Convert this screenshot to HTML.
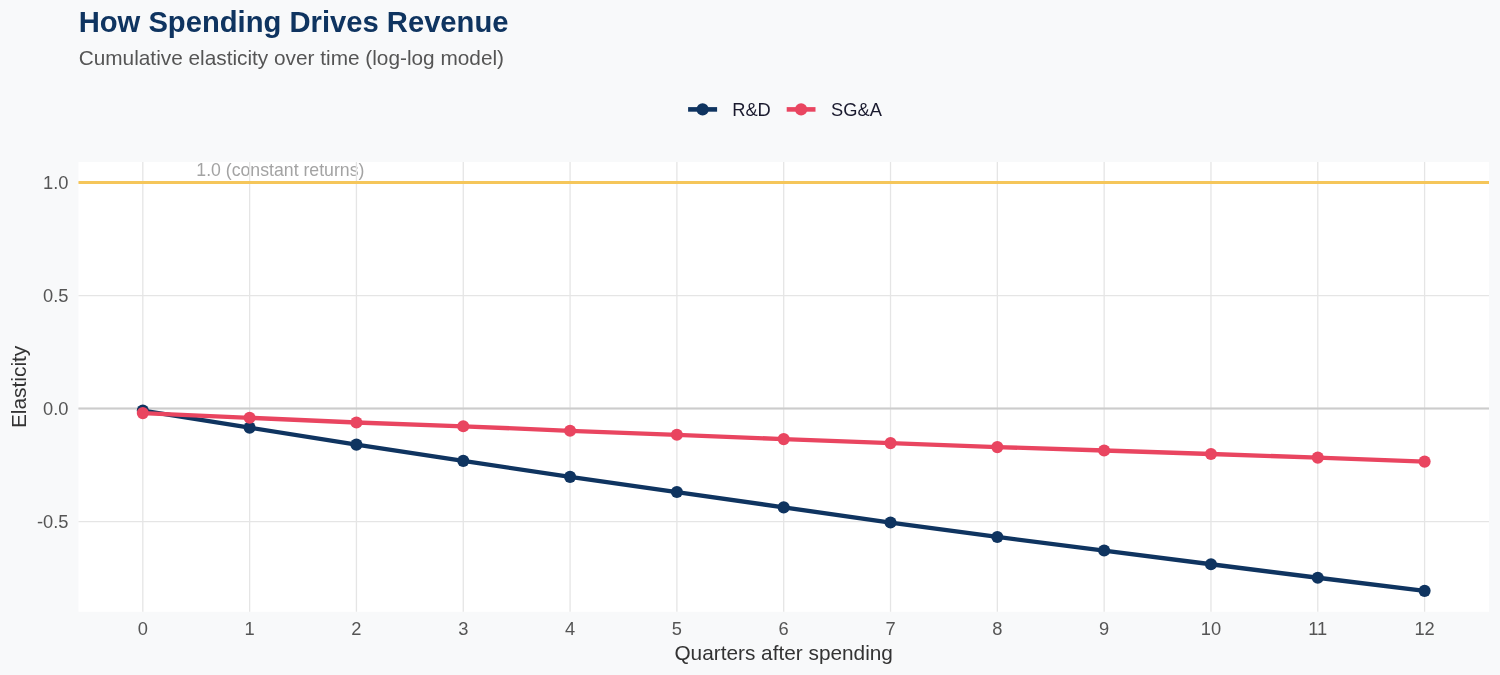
<!DOCTYPE html><html><head><meta charset="utf-8"><style>html,body{margin:0;padding:0;background:#F8F9FA;}svg{display:block;will-change:transform}text{font-family:"Liberation Sans",sans-serif}</style></head><body>
<svg width="1500" height="675" viewBox="0 0 1500 675">
<rect x="0" y="0" width="1500" height="675" fill="#F8F9FA"/>
<rect x="78.5" y="162" width="1410.5" height="449.79999999999995" fill="#FFFFFF"/>
<text x="196.3" y="176" font-size="17.7" fill="#999999" fill-opacity="0.9">1.0 (constant returns)</text>
<line x1="78.5" x2="1489" y1="182.6" y2="182.6" stroke="#E5E5E5" stroke-width="1.3"/>
<line x1="78.5" x2="1489" y1="295.6" y2="295.6" stroke="#E5E5E5" stroke-width="1.3"/>
<line x1="78.5" x2="1489" y1="408.5" y2="408.5" stroke="#E5E5E5" stroke-width="1.3"/>
<line x1="78.5" x2="1489" y1="521.6" y2="521.6" stroke="#E5E5E5" stroke-width="1.3"/>
<line x1="142.80" x2="142.80" y1="162" y2="611.8" stroke="#E5E5E5" stroke-width="1.3"/>
<line x1="249.62" x2="249.62" y1="162" y2="611.8" stroke="#E5E5E5" stroke-width="1.3"/>
<line x1="356.43" x2="356.43" y1="162" y2="611.8" stroke="#E5E5E5" stroke-width="1.3"/>
<line x1="463.25" x2="463.25" y1="162" y2="611.8" stroke="#E5E5E5" stroke-width="1.3"/>
<line x1="570.07" x2="570.07" y1="162" y2="611.8" stroke="#E5E5E5" stroke-width="1.3"/>
<line x1="676.88" x2="676.88" y1="162" y2="611.8" stroke="#E5E5E5" stroke-width="1.3"/>
<line x1="783.70" x2="783.70" y1="162" y2="611.8" stroke="#E5E5E5" stroke-width="1.3"/>
<line x1="890.52" x2="890.52" y1="162" y2="611.8" stroke="#E5E5E5" stroke-width="1.3"/>
<line x1="997.33" x2="997.33" y1="162" y2="611.8" stroke="#E5E5E5" stroke-width="1.3"/>
<line x1="1104.15" x2="1104.15" y1="162" y2="611.8" stroke="#E5E5E5" stroke-width="1.3"/>
<line x1="1210.97" x2="1210.97" y1="162" y2="611.8" stroke="#E5E5E5" stroke-width="1.3"/>
<line x1="1317.78" x2="1317.78" y1="162" y2="611.8" stroke="#E5E5E5" stroke-width="1.3"/>
<line x1="1424.60" x2="1424.60" y1="162" y2="611.8" stroke="#E5E5E5" stroke-width="1.3"/>
<line x1="78.5" x2="1489" y1="408.5" y2="408.5" stroke="#CCCCCC" stroke-width="2.2"/>
<line x1="78.5" x2="1489" y1="182.6" y2="182.6" stroke="#F5C65A" stroke-width="3"/>
<polyline points="142.80,410.65000000000003 249.62,427.65000000000003 356.43,444.65000000000003 463.25,460.85 570.07,476.85 676.88,492.05 783.70,507.35 890.52,522.5500000000001 997.33,536.95 1104.15,550.5500000000001 1210.97,564.25 1317.78,577.75 1424.60,590.85" fill="none" stroke="#0F3460" stroke-width="4.3" stroke-linejoin="round" stroke-linecap="butt"/><circle cx="142.80" cy="410.65000000000003" r="6.05" fill="#0F3460"/><circle cx="249.62" cy="427.65000000000003" r="6.05" fill="#0F3460"/><circle cx="356.43" cy="444.65000000000003" r="6.05" fill="#0F3460"/><circle cx="463.25" cy="460.85" r="6.05" fill="#0F3460"/><circle cx="570.07" cy="476.85" r="6.05" fill="#0F3460"/><circle cx="676.88" cy="492.05" r="6.05" fill="#0F3460"/><circle cx="783.70" cy="507.35" r="6.05" fill="#0F3460"/><circle cx="890.52" cy="522.5500000000001" r="6.05" fill="#0F3460"/><circle cx="997.33" cy="536.95" r="6.05" fill="#0F3460"/><circle cx="1104.15" cy="550.5500000000001" r="6.05" fill="#0F3460"/><circle cx="1210.97" cy="564.25" r="6.05" fill="#0F3460"/><circle cx="1317.78" cy="577.75" r="6.05" fill="#0F3460"/><circle cx="1424.60" cy="590.85" r="6.05" fill="#0F3460"/>
<polyline points="142.80,413.1 249.62,417.8 356.43,422.5 463.25,426.3 570.07,430.8 676.88,434.8 783.70,439.1 890.52,443.1 997.33,447.1 1104.15,450.5 1210.97,454.0 1317.78,457.6 1424.60,461.6" fill="none" stroke="#E94560" stroke-width="4.3" stroke-linejoin="round" stroke-linecap="butt"/><circle cx="142.80" cy="413.1" r="6.05" fill="#E94560"/><circle cx="249.62" cy="417.8" r="6.05" fill="#E94560"/><circle cx="356.43" cy="422.5" r="6.05" fill="#E94560"/><circle cx="463.25" cy="426.3" r="6.05" fill="#E94560"/><circle cx="570.07" cy="430.8" r="6.05" fill="#E94560"/><circle cx="676.88" cy="434.8" r="6.05" fill="#E94560"/><circle cx="783.70" cy="439.1" r="6.05" fill="#E94560"/><circle cx="890.52" cy="443.1" r="6.05" fill="#E94560"/><circle cx="997.33" cy="447.1" r="6.05" fill="#E94560"/><circle cx="1104.15" cy="450.5" r="6.05" fill="#E94560"/><circle cx="1210.97" cy="454.0" r="6.05" fill="#E94560"/><circle cx="1317.78" cy="457.6" r="6.05" fill="#E94560"/><circle cx="1424.60" cy="461.6" r="6.05" fill="#E94560"/>
<text x="68.5" y="188.9" font-size="18.3" fill="#555555" text-anchor="end">1.0</text>
<text x="68.5" y="301.9" font-size="18.3" fill="#555555" text-anchor="end">0.5</text>
<text x="68.5" y="414.8" font-size="18.3" fill="#555555" text-anchor="end">0.0</text>
<text x="68.5" y="527.9" font-size="18.3" fill="#555555" text-anchor="end">-0.5</text>
<text x="142.80" y="634.9" font-size="18.3" fill="#555555" text-anchor="middle">0</text>
<text x="249.62" y="634.9" font-size="18.3" fill="#555555" text-anchor="middle">1</text>
<text x="356.43" y="634.9" font-size="18.3" fill="#555555" text-anchor="middle">2</text>
<text x="463.25" y="634.9" font-size="18.3" fill="#555555" text-anchor="middle">3</text>
<text x="570.07" y="634.9" font-size="18.3" fill="#555555" text-anchor="middle">4</text>
<text x="676.88" y="634.9" font-size="18.3" fill="#555555" text-anchor="middle">5</text>
<text x="783.70" y="634.9" font-size="18.3" fill="#555555" text-anchor="middle">6</text>
<text x="890.52" y="634.9" font-size="18.3" fill="#555555" text-anchor="middle">7</text>
<text x="997.33" y="634.9" font-size="18.3" fill="#555555" text-anchor="middle">8</text>
<text x="1104.15" y="634.9" font-size="18.3" fill="#555555" text-anchor="middle">9</text>
<text x="1210.97" y="634.9" font-size="18.3" fill="#555555" text-anchor="middle">10</text>
<text x="1317.78" y="634.9" font-size="18.3" fill="#555555" text-anchor="middle">11</text>
<text x="1424.60" y="634.9" font-size="18.3" fill="#555555" text-anchor="middle">12</text>
<text x="783.7" y="659.7" font-size="20.8" fill="#333333" text-anchor="middle">Quarters after spending</text>
<text transform="translate(26.1,386.9) rotate(-90)" x="0" y="0" font-size="20.9" fill="#333333" text-anchor="middle">Elasticity</text>
<text x="78.7" y="31.5" font-size="29.2" font-weight="bold" fill="#0F3460">How Spending Drives Revenue</text>
<text x="78.7" y="64.5" font-size="20.8" fill="#555555">Cumulative elasticity over time (log-log model)</text>
<line x1="688.1" x2="717.1" y1="109.4" y2="109.4" stroke="#0F3460" stroke-width="4.6"/>
<circle cx="702.6" cy="109.4" r="6.1" fill="#0F3460"/>
<text x="732.2" y="115.7" font-size="18.3" fill="#1A1A2E">R&amp;D</text>
<line x1="786.7" x2="815.5" y1="109.4" y2="109.4" stroke="#E94560" stroke-width="4.6"/>
<circle cx="801.1" cy="109.4" r="6.1" fill="#E94560"/>
<text x="831.1" y="115.7" font-size="18.3" fill="#1A1A2E">SG&amp;A</text>
</svg></body></html>
